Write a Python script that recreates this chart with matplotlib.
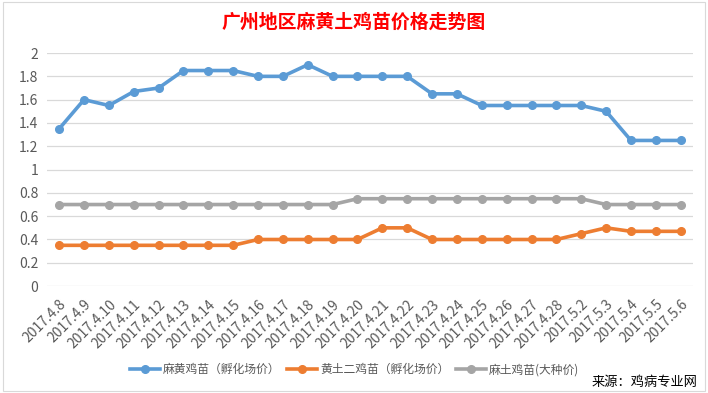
import numpy as np
import matplotlib.pyplot as plt
from matplotlib.patches import Rectangle

plt.rcParams['font.family'] = ['Noto Sans CJK SC', 'DejaVu Sans']

# 数据
dates = ['2017.4.8', '2017.4.9', '2017.4.10', '2017.4.11', '2017.4.12', '2017.4.13',
         '2017.4.14', '2017.4.15', '2017.4.16', '2017.4.17', '2017.4.18', '2017.4.19',
         '2017.4.20', '2017.4.21', '2017.4.22', '2017.4.23', '2017.4.24', '2017.4.25',
         '2017.4.26', '2017.4.27', '2017.4.28', '2017.5.2', '2017.5.3', '2017.5.4',
         '2017.5.5', '2017.5.6']
mahuang = [1.35, 1.6, 1.55, 1.67, 1.7, 1.85, 1.85, 1.85, 1.8, 1.8, 1.9, 1.8, 1.8,
           1.8, 1.8, 1.65, 1.65, 1.55, 1.55, 1.55, 1.55, 1.55, 1.5, 1.25, 1.25, 1.25]
huangtu = [0.35, 0.35, 0.35, 0.35, 0.35, 0.35, 0.35, 0.35, 0.4, 0.4, 0.4, 0.4, 0.4,
           0.5, 0.5, 0.4, 0.4, 0.4, 0.4, 0.4, 0.4, 0.45, 0.5, 0.47, 0.47, 0.47]
matu = [0.7, 0.7, 0.7, 0.7, 0.7, 0.7, 0.7, 0.7, 0.7, 0.7, 0.7, 0.7, 0.75,
        0.75, 0.75, 0.75, 0.75, 0.75, 0.75, 0.75, 0.75, 0.75, 0.7, 0.7, 0.7, 0.7]
labels = ['麻黄鸡苗（孵化场价）', '黄土二鸡苗（孵化场价）', '麻土鸡苗(大种价)']

x = np.arange(len(dates))

fig = plt.figure(figsize=(7.08, 3.93), dpi=100)
ax = fig.add_axes([0.066, 0.272, 0.913, 0.593])

ax.plot(x, mahuang, '-o', color='#5B9BD5', lw=2.6, ms=5.5, label=labels[0], zorder=3)
ax.plot(x, huangtu, '-o', color='#ED7D31', lw=2.6, ms=5.5, label=labels[1], zorder=3)
ax.plot(x, matu, '-o', color='#A5A5A5', lw=2.6, ms=5.5, label=labels[2], zorder=3)

ax.set_xlim(-0.5, len(dates) - 0.5)
ax.set_ylim(0, 2)
ax.set_yticks(np.arange(0, 2.01, 0.2))
ax.set_yticklabels(['0', '0.2', '0.4', '0.6', '0.8', '1', '1.2', '1.4', '1.6', '1.8', '2'])
ax.set_xticks(x)
ax.set_xticklabels(dates, rotation=45, ha='right', rotation_mode='anchor')
ax.tick_params(axis='both', length=0, labelsize=10, colors='#595959', pad=6)
ax.tick_params(axis='x', pad=8)
ax.grid(axis='y', color='#D9D9D9', lw=0.9)
ax.set_axisbelow(True)
for s in ax.spines.values():
    s.set_visible(False)

fig.text(0.5, 0.944, '广州地区麻黄土鸡苗价格走势图', ha='center', va='center',
         fontsize=13.6, color='#FF0000', fontweight='bold')

fig.legend(loc='center', bbox_to_anchor=(0.501, 0.059), ncol=3, frameon=False,
           fontsize=8.5, handlelength=2.5, columnspacing=0.6, handletextpad=0.25,
           labelcolor='#595959', borderpad=0)
fig.text(0.985, 0.028, '来源：鸡病专业网', ha='right', va='center', fontsize=9.5, color='black')

fig.patches.append(Rectangle((0.004, 0.005), 0.992, 0.99, transform=fig.transFigure,
                             fill=False, edgecolor='#D9D9D9', lw=0.8))

fig.savefig('out.png', dpi=100)
